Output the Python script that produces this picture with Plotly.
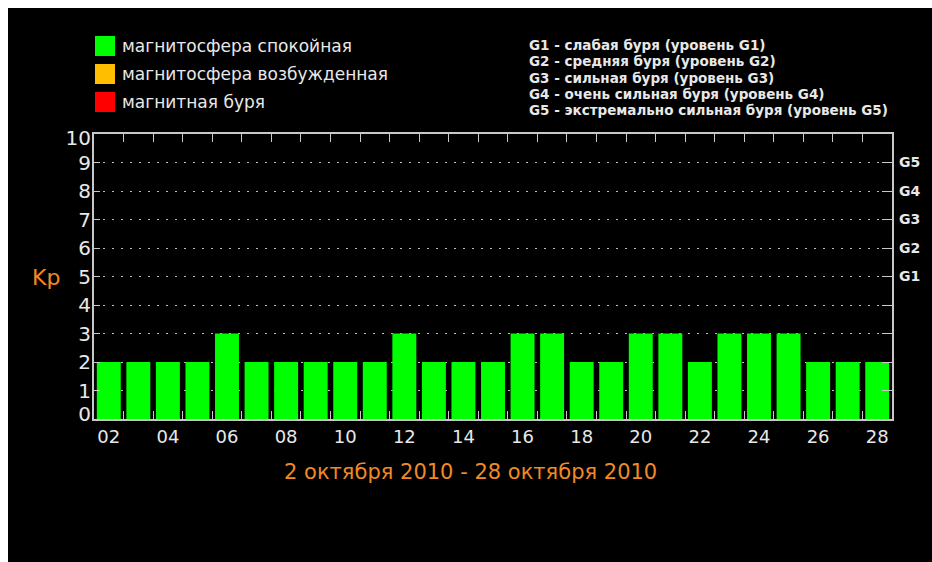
import plotly.graph_objects as go

days = list(range(2, 29))
day_labels = [f"{d:02d}" for d in days]
kp = [2, 2, 2, 2, 3, 2, 2, 2, 2, 2, 3, 2, 2, 2, 3, 3, 2, 2, 3, 3, 2, 3, 3, 3, 2, 2, 2]

kp_ticks = list(range(0, 11))
kp_tick_labels = [str(v) for v in kp_ticks]

legend_labels = ["магнитосфера спокойная", "магнитосфера возбужденная", "магнитная буря"]
legend_colors = ["#00ff00", "#ffbf00", "#ff0000"]

g_levels = [5, 6, 7, 8, 9]
g_labels = ["G1", "G2", "G3", "G4", "G5"]
g_text = [
    "G1 - слабая буря (уровень G1)",
    "G2 - средняя буря (уровень G2)",
    "G3 - сильная буря (уровень G3)",
    "G4 - очень сильная буря (уровень G4)",
    "G5 - экстремально сильная буря (уровень G5)",
]
period = "2 октября 2010 - 28 октября 2010"
y_title = "Kp"

ORANGE = "#f08a24"
AXIS = "#c8c8c8"
TXT = "#e8e8e8"

W, H = 932, 562
# plot-area geometry in page pixels
PL, PR, PT, PB = 94, 892, 134, 419
PW, PH = PR - PL, PB - PT


def px(x):
    return (x - PL) / PW


def py(y):
    return (PB - y) / PH


def bar_color(v):
    if v < 4:
        return legend_colors[0]
    if v < 5:
        return legend_colors[1]
    return legend_colors[2]


# end labels kept inside the frame as in the original image
label_pos = list(kp_ticks)
label_pos[0] = kp_ticks[0] + 0.18
label_pos[-1] = kp_ticks[-1] - 0.14

fig = go.Figure()
fig.add_trace(go.Bar(
    x=days, y=kp, marker=dict(color=[bar_color(v) for v in kp], line=dict(width=0)),
    width=0.81, showlegend=False, hoverinfo="skip",
))
for ax in ("y2", "y3"):
    fig.add_trace(go.Scatter(x=[days[0]], y=[0], yaxis=ax, mode="markers",
                             marker=dict(opacity=0), showlegend=False, hoverinfo="skip"))

boundaries = [d + 0.5 for d in days[:-1]]

fig.update_layout(
    width=W, height=H,
    paper_bgcolor="#000000", plot_bgcolor="#000000",
    margin=dict(l=PL, r=W - PR, t=PT, b=H - PB),
    showlegend=False,
    xaxis=dict(
        range=[1.5, 28.5], tickmode="array", tickvals=days[::2], ticktext=day_labels[::2],
        ticks="", showgrid=False, zeroline=False,
        showline=True, linecolor=AXIS, linewidth=2, mirror="ticks",
        tickfont=dict(family="DejaVu Sans", size=18, color=TXT),
        ticklabelstandoff=0,
        minor=dict(tickmode="array", tickvals=boundaries, ticks="inside", ticklen=8,
                   tickcolor=AXIS, tickwidth=1, showgrid=False),
    ),
    yaxis=dict(
        range=[0, 10], tickmode="array", tickvals=kp_ticks,
        ticks="inside", ticklen=6, tickcolor=AXIS, tickwidth=1,
        showticklabels=False,
        showgrid=False, zeroline=False,
        showline=True, linecolor=AXIS, linewidth=2, mirror=True,
    ),
    yaxis3=dict(
        range=[0, 10], overlaying="y", side="left", tickmode="array",
        tickvals=label_pos, ticktext=kp_tick_labels, ticks="",
        showgrid=False, zeroline=False, showline=False,
        tickfont=dict(family="DejaVu Sans", size=20, color=TXT),
        ticklabelstandoff=2,
    ),
    yaxis2=dict(
        range=[0, 10], overlaying="y", side="right", tickmode="array",
        tickvals=list(range(1, 10)),
        ticktext=["" for _ in range(1, 5)] + g_labels,
        ticks="inside", ticklen=10, tickcolor=AXIS, tickwidth=1,
        showgrid=True, gridcolor="#bdbdbd", gridwidth=1, griddash="2px,7px",
        zeroline=False, showline=False,
        tickfont=dict(family="DejaVu Sans", size=14, color=TXT, weight="bold"),
        ticklabelstandoff=6,
    ),
)

shapes = [
    # white page border at left and top, as in the original screenshot
    dict(type="rect", xref="paper", yref="paper", x0=px(0), x1=px(8), y0=py(H), y1=py(0),
         fillcolor="#ffffff", line=dict(width=0), layer="below"),
    dict(type="rect", xref="paper", yref="paper", x0=px(0), x1=px(W), y0=py(8), y1=py(0),
         fillcolor="#ffffff", line=dict(width=0), layer="below"),
]
annotations = []
for i, (lab, col) in enumerate(zip(legend_labels, legend_colors)):
    yc = 46 + 28 * i
    shapes.append(dict(type="rect", xref="paper", yref="paper",
                       x0=px(95), x1=px(115), y0=py(yc + 10), y1=py(yc - 10),
                       fillcolor=col, line=dict(width=0), layer="above"))
    annotations.append(dict(xref="paper", yref="paper", x=px(120), y=py(yc), text=lab,
                            showarrow=False, xanchor="left", yanchor="middle",
                            font=dict(family="DejaVu Sans", size=17, color=TXT)))

for i, t in enumerate(g_text):
    yc = 45 + 16.3 * i
    annotations.append(dict(xref="paper", yref="paper", x=px(527), y=py(yc), text=t,
                            showarrow=False, xanchor="left", yanchor="middle",
                            font=dict(family="DejaVu Sans", size=13.5, color=TXT,
                                      weight="bold")))

annotations.append(dict(xref="paper", yref="paper", x=px(46), y=py(277), text=y_title,
                        showarrow=False, xanchor="center", yanchor="middle",
                        font=dict(family="DejaVu Sans", size=22, color=ORANGE)))
annotations.append(dict(xref="paper", yref="paper", x=px(470), y=py(472), text=period,
                        showarrow=False, xanchor="center", yanchor="middle",
                        font=dict(family="DejaVu Sans", size=21, color=ORANGE)))

fig.update_layout(shapes=shapes, annotations=annotations)
fig.write_html(
    "out.html",
    config={"displayModeBar": False},
    post_script="document.body.style.margin='0';"
                "document.documentElement.style.overflow='hidden';"
                "document.body.style.overflow='hidden';",
)
